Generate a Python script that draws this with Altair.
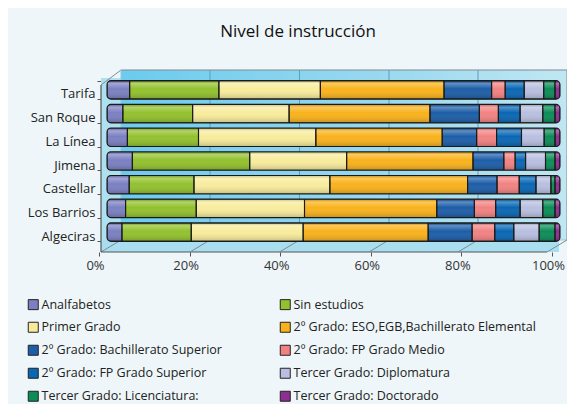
import altair as alt
import pandas as pd

# ---------------- data ----------------
cities = ["Tarifa", "San Roque", "La Línea", "Jimena", "Castellar", "Los Barrios", "Algeciras"]
categories = [
    "Analfabetos",
    "Sin estudios",
    "Primer Grado",
    "2º Grado: ESO,EGB,Bachillerato Elemental",
    "2º Grado: Bachillerato Superior",
    "2º Grado: FP Grado Medio",
    "2º Grado: FP Grado Superior",
    "Tercer Grado: Diplomatura",
    "Tercer Grado: Licenciatura:",
    "Tercer Grado: Doctorado",
]
analfabetos   = [5.0, 3.5, 4.5, 5.6, 4.9, 4.1, 3.3]
sin_estudios  = [19.7, 15.4, 15.7, 25.9, 14.3, 15.6, 15.3]
primer_grado  = [22.4, 21.3, 25.9, 21.4, 30.0, 23.9, 24.7]
eso_egb       = [27.3, 31.1, 27.9, 27.9, 30.4, 29.2, 27.6]
bach_superior = [10.5, 10.9, 7.6, 6.8, 6.5, 8.3, 9.7]
fp_medio      = [3.0, 4.2, 4.4, 2.5, 4.9, 4.7, 5.0]
fp_superior   = [4.2, 4.8, 5.5, 2.3, 3.7, 5.4, 4.2]
diplomatura   = [4.3, 5.0, 5.0, 4.4, 3.3, 5.0, 5.6]
licenciatura  = [2.5, 2.7, 2.4, 2.1, 0.9, 2.7, 3.5]
doctorado     = [1.1, 1.1, 1.1, 1.1, 1.1, 1.1, 1.1]
x_ticks = [0, 0.2, 0.4, 0.6, 0.8, 1.0]
title_text = "Nivel de instrucción"

series = [analfabetos, sin_estudios, primer_grado, eso_egb, bach_superior,
          fp_medio, fp_superior, diplomatura, licenciatura, doctorado]
colors = ["#7b80c2", "#93c12e", "#f8ec9c", "#f9b21c", "#1d5ea8",
          "#f28282", "#0a67b4", "#b9bfe0", "#0c8d58", "#8e2e92"]

rows = []
for ci, (cat, vals) in enumerate(zip(categories, series)):
    for city, v in zip(cities, vals):
        rows.append({"city": city, "cat": cat, "order": ci, "value": v})
df = pd.DataFrame(rows)

# legend is filled column by column: put even items in col 1, odd in col 2
leg_idx = list(range(0, len(categories), 2)) + list(range(1, len(categories), 2))
leg_domain = [categories[i] for i in leg_idx]
leg_range = [colors[i] for i in leg_idx]

FONT = "Open Sans"
W, H = 453, 182

x_enc = alt.X("value:Q", stack="normalize",
              scale=alt.Scale(domain=[0, 1], nice=False),
              axis=alt.Axis(values=x_ticks, format=".0%", title=None, domain=False,
                            grid=False, tickOffset=-8, labelOffset=-4, tickSize=4,
                            tickColor="#555", labelFlush=False, labelPadding=3,
                            labelFontSize=13, labelColor="#333", labelFont=FONT))
y_enc = alt.Y("city:N", sort=cities,
              scale=alt.Scale(paddingInner=0.22, paddingOuter=0.45),
              axis=alt.Axis(title=None, domain=False, offset=6, tickBand="extent",
                            tickOffset=5, labelOffset=4, tickSize=4, tickColor="#555",
                            labelPadding=2, labelFontSize=13, labelColor="#222",
                            labelFont=FONT))

bars = alt.Chart(df).mark_bar(cornerRadius=4, strokeWidth=0).encode(
    x=x_enc,
    y=y_enc,
    color=alt.Color("cat:N",
                    scale=alt.Scale(domain=leg_domain, range=leg_range),
                    legend=alt.Legend(title=None, orient="none", legendX=-80, legendY=228,
                                      columns=2, columnPadding=56, rowPadding=8,
                                      symbolType="square", symbolSize=100,
                                      symbolStrokeColor="#222", symbolStrokeWidth=1,
                                      symbolOpacity=1, labelFontSize=12.5, labelColor="#222",
                                      labelFont=FONT, labelLimit=400, labelOffset=2)),
    order=alt.Order("order:Q"),
)

shade = alt.LinearGradient(
    gradient="linear", x1=0, y1=0, x2=0, y2=1,
    stops=[alt.GradientStop(offset=0, color="rgba(0,0,0,0.10)"),
           alt.GradientStop(offset=0.15, color="rgba(255,255,255,0.30)"),
           alt.GradientStop(offset=0.45, color="rgba(255,255,255,0.0)"),
           alt.GradientStop(offset=1, color="rgba(0,0,0,0.20)")])

gloss = alt.Chart(df).mark_bar(cornerRadius=4, fill=shade, stroke="#1a1a1a",
                               strokeWidth=1.1).encode(
    x=alt.X("value:Q", stack="normalize"),
    y=alt.Y("city:N", sort=cities),
    order=alt.Order("order:Q"),
)

# ---------------- 3D frame decoration (pixel geometry) ----------------
one = pd.DataFrame({"k": [0]})
wall_grad = alt.LinearGradient(
    gradient="linear", x1=0, y1=0, x2=1, y2=0,
    stops=[alt.GradientStop(offset=0, color="#6ccbee"),
           alt.GradientStop(offset=0.6, color="#9ad9ef"),
           alt.GradientStop(offset=1, color="#c0e7f2")])
back_wall = alt.Chart(one).mark_rect(fill=wall_grad).encode(
    x=alt.value(14), x2=alt.value(460), y=alt.value(0), y2=alt.value(170))
side_wall = alt.Chart(one).mark_rect(fill="#aee1f0").encode(
    x=alt.value(-6), x2=alt.value(14), y=alt.value(8), y2=alt.value(176))
floor = alt.Chart(one).mark_rect(fill="#a9def0").encode(
    x=alt.value(-6), x2=alt.value(452), y=alt.value(170), y2=alt.value(182))

def seg(x1, y1, x2, y2, color="#7d8c92", w=1.0):
    return alt.Chart(one).mark_rule(color=color, strokeWidth=w).encode(
        x=alt.value(x1), y=alt.value(y1), x2=alt.value(x2), y2=alt.value(y2))

edges = [
    seg(-6, 15, 14, 0), seg(14, 0, 460, 0), seg(460, 0, 460, 170),
    seg(14, 0, 14, 170, "#8fc9dc"), seg(14, 170, 460, 170, "#8fc9dc"),
    seg(-6, 182, 14, 170), seg(440, 182, 460, 170),
    seg(-6, 15, -6, 182, "#555", 1.2), seg(-6, 182, 440, 182, "#555", 1.2),
]
for gx in [103, 192.5, 282, 371]:
    edges.append(seg(gx, 0, gx, 170, "#5a9fbd"))
    edges.append(seg(gx, 170, gx - 20, 182, "#7d8c92"))

title = alt.Chart(pd.DataFrame({"t": [title_text]})).mark_text(
    font=FONT, fontSize=17, color="#111", align="center", baseline="middle").encode(
    text="t:N", x=alt.value(191), y=alt.value(-38))

chart = alt.layer(
    back_wall, side_wall, floor, *edges, bars, gloss, title
).properties(
    width=W, height=H,
    autosize=alt.AutoSizeParams(type="none"),
    padding={"left": 99, "top": 62, "right": 7, "bottom": 152},
    background="#eef6f9",
).configure_view(stroke=None)

chart.save("out.html", embed_options={"renderer": "svg", "actions": False})
